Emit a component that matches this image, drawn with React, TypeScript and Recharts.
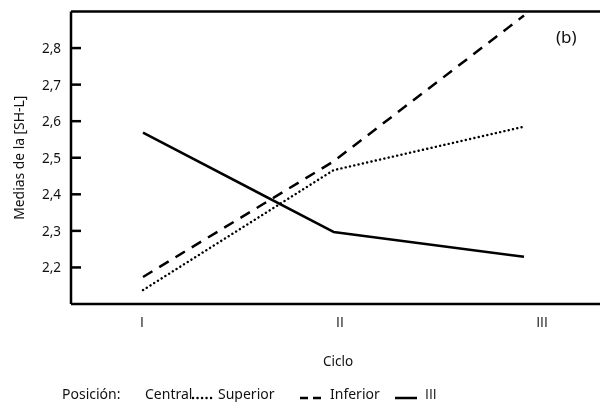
import React from 'react';
import { LineChart, Line, XAxis, YAxis, ReferenceLine } from 'recharts';

const ciclos = ['I', 'II', 'III'];
const central = [2.138, 2.466, 2.585];
const superior = [2.174, 2.49, 2.889];
const inferior = [2.569, 2.297, 2.229];
const yTicks = [2.2, 2.3, 2.4, 2.5, 2.6, 2.7, 2.8];
const legendTitle = 'Posición:';
const legendLabels = ['Central', 'Superior', 'Inferior', 'III'];

const data = ciclos.map((c, i) => ({
  ciclo: c,
  central: central[i],
  superior: superior[i],
  inferior: inferior[i],
}));

const FONT = '"Noto Sans", sans-serif';
const ROMAN_FONT = '"Open Sans", "Liberation Sans", sans-serif';
const AXIS_X = 71;
const xLabelShift = [-1, 6.5, 18];
const txt: React.CSSProperties = { fontFamily: FONT, fill: '#111' };

const YTick = (props: any) => {
  const { y, payload } = props;
  return (
    <g>
      <line x1={AXIS_X} x2={AXIS_X + 10} y1={y} y2={y} stroke="#000" strokeWidth={2.5} />
      <text x={61} y={y} dy={5} textAnchor="end" fontSize={13.5} style={txt}>
        {payload.value.toFixed(1).replace('.', ',')}
      </text>
    </g>
  );
};

const XTick = (props: any) => {
  const { x, y, payload, index } = props;
  return (
    <text x={x + (xLabelShift[index] || 0)} y={y + 23} textAnchor="middle" fontSize={14} style={{ fontFamily: ROMAN_FONT, fill: '#111' }}>
      {payload.value}
    </text>
  );
};

const Sample = ({ dash, width, cap, left }: { dash?: string; width: number; cap?: any; left: number }) => (
  <svg width={26} height={12} style={{ position: 'absolute', left: left - 2, top: 391 }}>
    <line x1={2} x2={24} y1={7} y2={7} stroke="#000" strokeWidth={width} strokeDasharray={dash} strokeLinecap={cap || 'butt'} />
  </svg>
);

const lbl = (left: number, font: string = FONT): React.CSSProperties => ({
  position: 'absolute', left, top: 386, fontFamily: font, fontSize: 14, lineHeight: '16px', color: '#111', whiteSpace: 'nowrap',
});

export default function App() {
  return (
    <div style={{ position: 'absolute', left: 0, top: 0, width: 600, height: 402, background: '#fff', overflow: 'hidden', fontFamily: FONT, filter: 'grayscale(1)' }}>
      <LineChart width={600} height={402} data={data} margin={{ top: 11.5, right: 0, bottom: 28, left: 0 }}>
        <XAxis
          dataKey="ciclo"
          height={70}
          padding={{ left: 72, right: 76 }}
          axisLine={{ stroke: '#000', strokeWidth: 2.5 }}
          tickLine={false}
          tickSize={0}
          tickMargin={0}
          tick={<XTick />}
          interval={0}
          label={() => (
            <text x={338} y={366} textAnchor="middle" fontSize={13.5} style={txt}>Ciclo</text>
          )}
        />
        <YAxis
          type="number"
          domain={[2.1, 2.9]}
          ticks={yTicks}
          width={71}
          axisLine={{ stroke: '#000', strokeWidth: 2.5 }}
          tickLine={false}
          tickSize={0}
          tickMargin={10}
          tick={<YTick />}
          interval={0}
          label={(p: any) => {
            const vb = p.viewBox || { y: 11.5, height: 292.5 };
            const cy = vb.y + vb.height / 2;
            return (
              <text x={19} y={cy} transform={`rotate(-90, 19, ${cy})`} textAnchor="middle" dominantBaseline="central" fontSize={13.5} textLength={124} lengthAdjust="spacingAndGlyphs" style={txt}>
                Medias de la [SH-L]
              </text>
            );
          }}
        />
        <ReferenceLine y={2.9} stroke="#000" strokeWidth={2.5} />
        <Line dataKey="inferior" name={legendLabels[2]} stroke="#000" strokeWidth={2.5} dot={false} activeDot={false} isAnimationActive={false} strokeLinejoin="round" />
        <Line dataKey="central" name={legendLabels[0]} stroke="#000" strokeWidth={2.4} strokeDasharray="0.1 4.3" strokeLinecap="round" dot={false} activeDot={false} isAnimationActive={false} />
        <Line dataKey="superior" name={legendLabels[1]} stroke="#000" strokeWidth={2.5} strokeDasharray="11 8" dot={false} activeDot={false} isAnimationActive={false} />
      </LineChart>
      <div style={{ position: 'absolute', left: 556, top: 25, fontSize: 17, color: '#111' }}>(b)</div>
      <span style={lbl(62)}>{legendTitle}</span>
      <span style={lbl(145)}>{legendLabels[0]}</span>
      <Sample left={193} dash="0.1 4.4" width={2.4} cap="round" />
      <span style={lbl(218)}>{legendLabels[1]}</span>
      <Sample left={300} dash="8 5" width={2.5} />
      <span style={lbl(330)}>{legendLabels[2]}</span>
      <Sample left={395} width={2.5} />
      <span style={lbl(425, ROMAN_FONT)}>{legendLabels[3]}</span>
    </div>
  );
}
